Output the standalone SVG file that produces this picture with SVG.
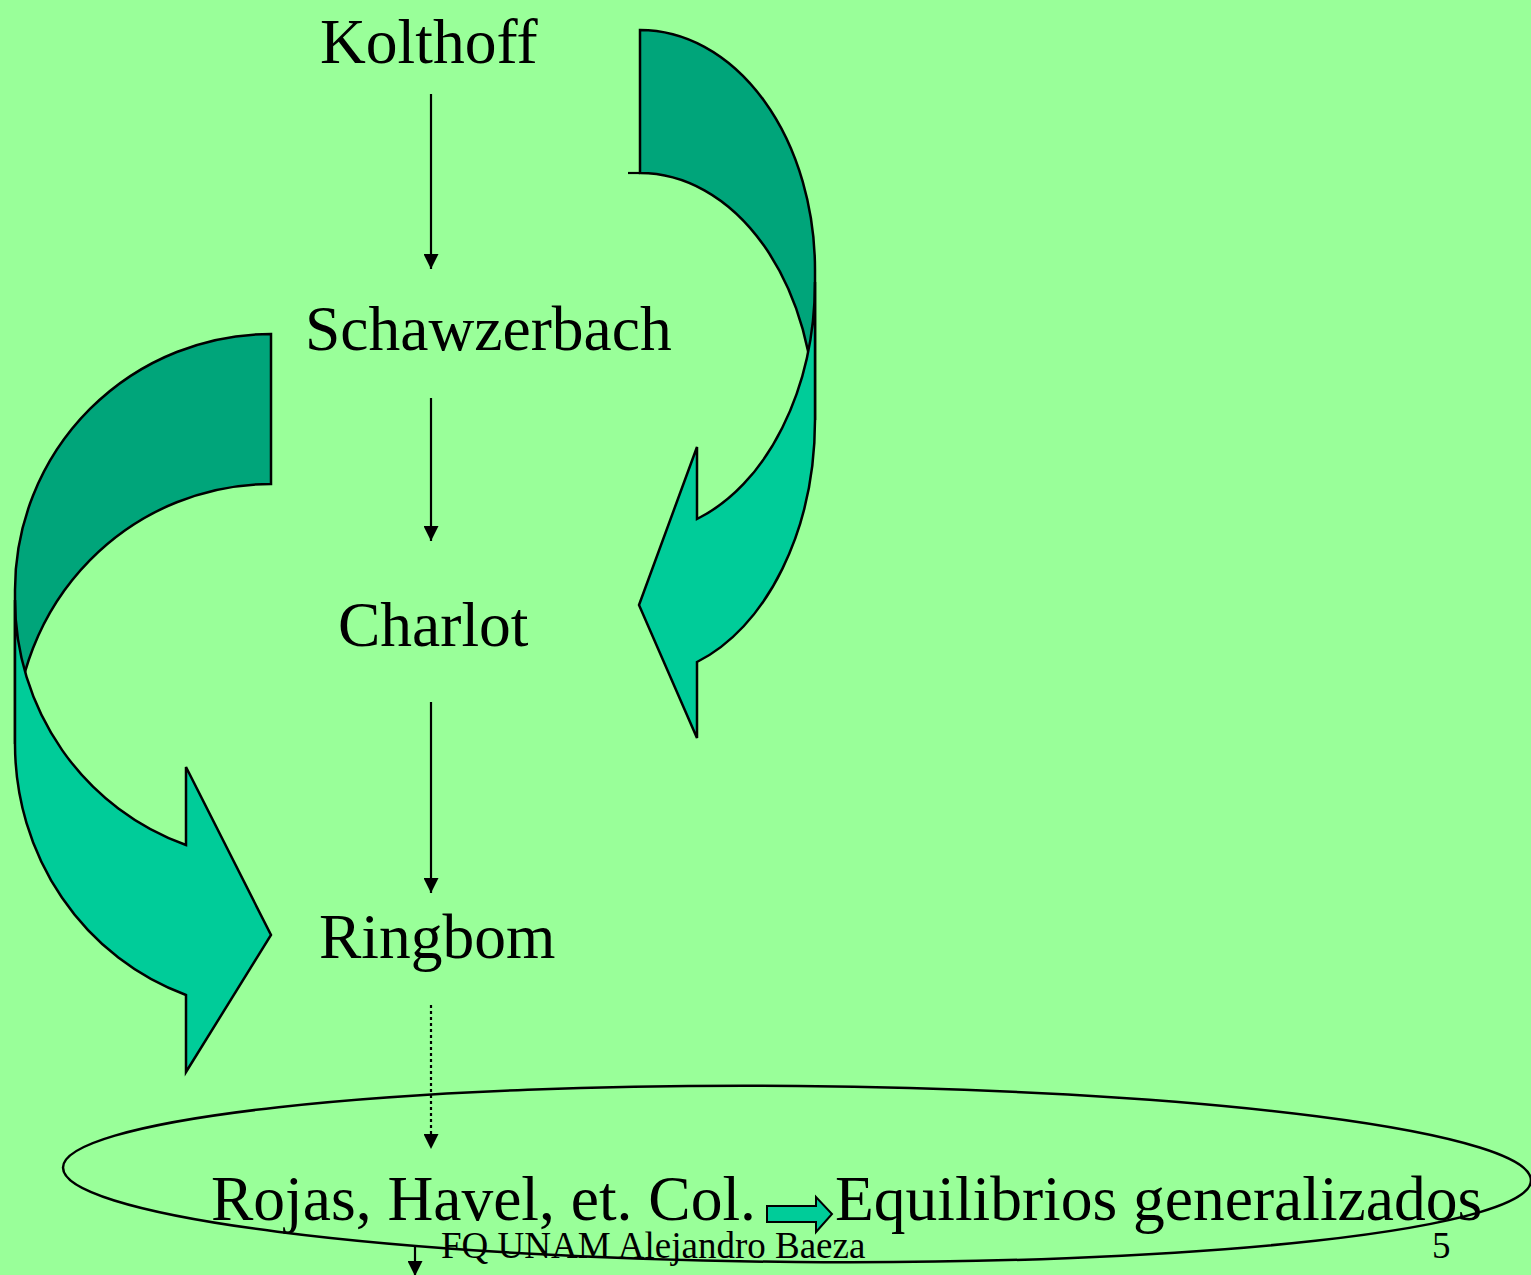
<svg xmlns="http://www.w3.org/2000/svg" width="1531" height="1275" viewBox="0 0 1531 1275">
<style>
.t{font-family:"Liberation Serif","Times New Roman",serif;font-size:63.5px;fill:#000}
.f{font-family:"Liberation Serif","Times New Roman",serif;font-size:37px;fill:#000}
.dark{fill:#00A57A;stroke:#000;stroke-width:2.5;stroke-linejoin:miter}
.light{fill:#00CC99;stroke:#000;stroke-width:2.5;stroke-linejoin:miter}
.ln{stroke:#000;stroke-width:2.2;fill:none}
</style>
<defs>
<marker id="ah" viewBox="0 0 10 10" refX="10" refY="5" markerWidth="15" markerHeight="15" markerUnits="userSpaceOnUse" orient="auto">
<path d="M0,0 L10,5 L0,10 Z" fill="#000"/>
</marker>
</defs>
<rect width="1531" height="1275" fill="#99FF99"/>
<g id="curved-arrow-right">
<path class="dark" d="M640,30 A175,240 0 0 1 815,270 L815,420 A175,247 0 0 0 640,173 Z"/>
<path class="ln" d="M628,173 L640,173"/>
<path class="light" d="M815,282 A175,251 0 0 1 697,519 L697,447 L639,605 L697,738 L697,662 A175,256 0 0 0 815,420 Z"/>
</g>
<g id="curved-arrow-left">
<path class="dark" d="M271,334 A256,256 0 0 0 15,590 L15,744 A256,260 0 0 1 271,484 Z"/>
<path class="light" d="M15,600 A256,260 0 0 0 186,845 L186,767 L271,935 L186,1072 L186,995 A256,266 0 0 1 15,744 Z"/>
</g>
<g id="node-kolthoff"><text class="t" x="320" y="63">Kolthoff</text></g>
<g id="node-schawzerbach"><text class="t" x="305" y="350">Schawzerbach</text></g>
<g id="node-charlot"><text class="t" x="338" y="646">Charlot</text></g>
<g id="node-ringbom"><text class="t" x="319" y="958">Ringbom</text></g>
<g id="node-rojas"><text class="t" x="211" y="1220">Rojas, Havel, et. Col.</text></g>
<g id="node-equilibrios"><text class="t" x="835" y="1220">Equilibrios generalizados</text></g>
<g id="footer">
<text class="f" x="441" y="1258">FQ UNAM Alejandro Baeza</text>
<text class="f" x="1432" y="1258">5</text>
</g>
<g id="connectors">
<line class="ln" x1="431" y1="94" x2="431" y2="269" marker-end="url(#ah)"/>
<line class="ln" x1="431" y1="398" x2="431" y2="541" marker-end="url(#ah)"/>
<line class="ln" x1="431" y1="702" x2="431" y2="893" marker-end="url(#ah)"/>
<line class="ln" x1="431" y1="1005" x2="431" y2="1149" stroke-dasharray="3,3" marker-end="url(#ah)"/>
<line class="ln" x1="415" y1="1246" x2="415" y2="1276" marker-end="url(#ah)"/>
<path class="light" d="M767,1206 L816,1206 L816,1197 L832,1214 L816,1232 L816,1222 L767,1222 Z" style="stroke-width:2"/>
</g>
<g id="group-ellipse">
<ellipse cx="797" cy="1174" rx="734" ry="88" fill="none" stroke="#000" stroke-width="2.5" transform="rotate(0.5 797 1174)"/>
</g>
</svg>
